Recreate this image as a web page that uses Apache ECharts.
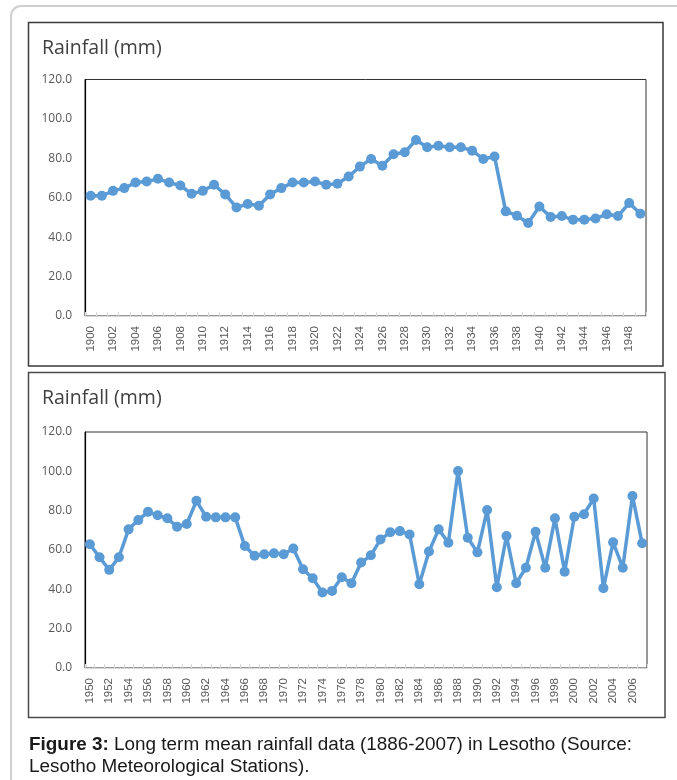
<!DOCTYPE html>
<html>
<head>
<meta charset="utf-8">
<title>Long term mean rainfall data in Lesotho</title>
<script src="https://cdn.jsdelivr.net/npm/echarts@6/dist/echarts.min.js"></script>
<style>
  html, body { margin: 0; padding: 0; background: #fff; }
  #chart { width: 677px; height: 780px; }
</style>
</head>
<body>
<div id="chart"></div>
<script>
// Annual mean rainfall (mm), 1900–1949
const yearsEarly = ['1900','1901','1902','1903','1904','1905','1906','1907','1908','1909',
  '1910','1911','1912','1913','1914','1915','1916','1917','1918','1919',
  '1920','1921','1922','1923','1924','1925','1926','1927','1928','1929',
  '1930','1931','1932','1933','1934','1935','1936','1937','1938','1939',
  '1940','1941','1942','1943','1944','1945','1946','1947','1948','1949'];
const rainEarly = [61.0, 61.0, 63.5, 64.9, 67.7, 68.2, 69.6, 67.7, 66.2, 62.0,
  63.5, 66.6, 61.7, 55.1, 56.8, 55.9, 61.7, 64.9, 67.7, 67.7,
  68.2, 66.6, 67.1, 70.8, 75.8, 79.7, 76.2, 82.1, 83.1, 89.3,
  85.6, 86.4, 85.6, 85.6, 83.9, 79.7, 80.9, 53.1, 50.9, 47.2,
  55.6, 50.2, 50.7, 48.9, 48.9, 49.5, 51.6, 50.7, 57.3, 51.9];

// Annual mean rainfall (mm), 1950–2007
const yearsLate = ['1950','1951','1952','1953','1954','1955','1956','1957','1958','1959',
  '1960','1961','1962','1963','1964','1965','1966','1967','1968','1969',
  '1970','1971','1972','1973','1974','1975','1976','1977','1978','1979',
  '1980','1981','1982','1983','1984','1985','1986','1987','1988','1989',
  '1990','1991','1992','1993','1994','1995','1996','1997','1998','1999',
  '2000','2001','2002','2003','2004','2005','2006','2007'];
const rainLate = [62.9, 56.3, 49.9, 56.3, 70.5, 75.2, 79.4, 77.7, 76.1, 71.8,
  73.2, 85.0, 76.9, 76.6, 76.6, 76.6, 62.0, 57.1, 57.8, 58.3,
  57.8, 60.8, 50.2, 45.6, 38.4, 39.2, 46.1, 43.1, 53.6, 57.3,
  65.4, 69.0, 69.6, 67.9, 42.6, 59.2, 70.5, 63.7, 100.2, 66.2,
  58.8, 80.3, 41.1, 67.1, 43.1, 51.0, 69.3, 51.0, 76.1, 49.0,
  76.9, 78.2, 86.2, 40.6, 63.9, 51.0, 87.5, 63.4];

// Value axis range shared by both panels
const yMin = 0, yMax = 120, yStep = 20;
const panelTitle = 'Rainfall (mm)';

const lineColor = '#5B9BD5';
const labelColor = '#595959';

function xAxisFor(gridIndex, cats) {
  return {
    type: 'category',
    gridIndex: gridIndex,
    data: cats,
    boundaryGap: true,
    axisLine: { lineStyle: { color: '#d9d9d9', width: 1 } },
    axisTick: { show: true, inside: true, length: 4, interval: 0, lineStyle: { color: '#d9d9d9' } },
    axisLabel: {
      interval: 1, rotate: 90, margin: 10,
      color: labelColor, fontFamily: 'Liberation Sans', fontSize: 11.5
    },
    splitLine: { show: false }
  };
}

function yAxisFor(gridIndex) {
  return {
    type: 'value',
    gridIndex: gridIndex,
    min: yMin, max: yMax, interval: yStep,
    axisLine: { show: true, lineStyle: { color: '#000', width: 1.2 } },
    axisTick: { show: false },
    axisLabel: {
      margin: 13,
      color: labelColor, fontFamily: 'Open Sans', fontSize: 12,
      formatter: v => v.toFixed(1)
    },
    splitLine: { show: false }
  };
}

function seriesFor(idx, values) {
  return {
    type: 'line',
    xAxisIndex: idx, yAxisIndex: idx,
    data: values,
    showAllSymbol: true,
    symbol: 'circle', symbolSize: 10,
    lineStyle: { color: lineColor, width: 3.5 },
    itemStyle: { color: lineColor },
    animation: false
  };
}

const chart = echarts.init(document.getElementById('chart'), null, { renderer: 'canvas' });

const titleStyle = { fontFamily: 'Open Sans', fontWeight: 'normal', fontSize: 19.5, color: '#404040' };

chart.setOption({
  backgroundColor: '#fff',
  animation: false,
  title: [
    { text: panelTitle, left: 37, top: 33, textStyle: titleStyle },
    { text: panelTitle, left: 37, top: 383, textStyle: titleStyle }
  ],
  grid: [
    { left: 85, right: 31, top: 79.5, height: 236.5, show: true, borderColor: '#333', borderWidth: 1 },
    { left: 85, right: 30, top: 432, height: 236, show: true, borderColor: '#333', borderWidth: 1 }
  ],
  xAxis: [xAxisFor(0, yearsEarly), xAxisFor(1, yearsLate)],
  yAxis: [yAxisFor(0), yAxisFor(1)],
  series: [seriesFor(0, rainEarly), seriesFor(1, rainLate)],
  graphic: [
    // outer page frame
    { type: 'rect', silent: true, z: -10,
      shape: { x: 11, y: 6, width: 700, height: 820, r: 10 },
      style: { fill: 'none', stroke: '#cfcfcf', lineWidth: 2 } },
    // chart boxes
    { type: 'rect', silent: true, z: -5,
      shape: { x: 28.5, y: 22.5, width: 634.5, height: 343.5 },
      style: { fill: 'none', stroke: '#3a3a3a', lineWidth: 1.5 } },
    { type: 'rect', silent: true, z: -5,
      shape: { x: 28.5, y: 372.5, width: 636.5, height: 345 },
      style: { fill: 'none', stroke: '#4a4a4a', lineWidth: 1.5 } },
    // caption
    { type: 'text', silent: true, x: 29, y: 734, scaleX: 1.05,
      style: {
        text: '{b|Figure 3:} Long term mean rainfall data (1886-2007) in Lesotho (Source:\nLesotho Meteorological Stations).',
        fontFamily: 'Liberation Sans', fontSize: 18, lineHeight: 22, fill: '#1a1a1a',
        rich: { b: { fontFamily: 'Liberation Sans', fontSize: 18, lineHeight: 22, fontWeight: 'bold', fill: '#1a1a1a' } }
      } }
  ]
});
</script>
</body>
</html>
